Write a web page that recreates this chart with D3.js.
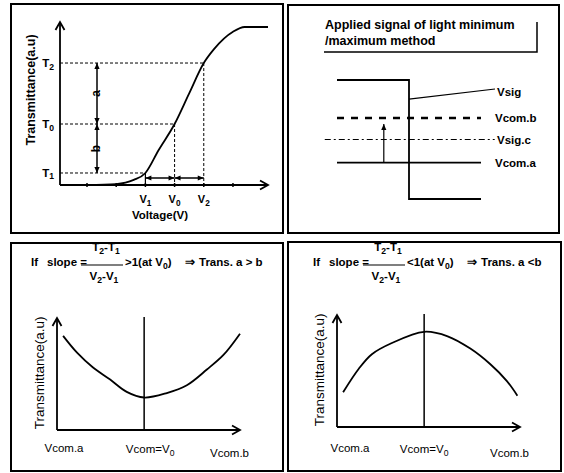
<!DOCTYPE html>
<html>
<head>
<meta charset="utf-8">
<script src="https://cdnjs.cloudflare.com/ajax/libs/d3/7.8.5/d3.min.js"></script>
<style>
body { margin: 0; background: #fff; }
text { font-family: "Liberation Sans", Arial, sans-serif; fill: #000; }
</style>
</head>
<body>
<div id="chart"></div>
<script>
// ---- data ----
// panel 1: transmittance vs voltage
var V1 = 3, V0 = 4, V2 = 5;
var T1 = 0.076, T0 = 0.386, T2 = 0.772;
var voltage = [1, 2, 2.6, V1, 3.45, V0, 4.5, V2, 5.35, 6, 6.4, 7.2];
var transmittance = [0, 0.006, 0.032, T1, 0.22, T0, 0.58, T2, 0.86, 0.97, 1, 1];
var voltTicks = [1, 2, 3, 4, 5, 6];
var voltNames = ["V_1", "V_0", "V_2"];
var transNames = ["T_1", "T_0", "T_2"];

// panel 2: applied signal
var sigTime = [0, 1, 1, 2];
var sigLevel = [1, 1, -1, -1];
var levelNames = ["Vcom.b", "Vsig.c", "Vcom.a"];
var levelValues = [0.36, 0, -0.39];

// panel 3: slope > 1
var vcomA = [-0.93, -0.77, -0.59, -0.39, -0.2, 0, 0.26, 0.49, 0.72, 0.91, 1.1];
var transA = [0.84, 0.69, 0.56, 0.45, 0.34, 0.29, 0.33, 0.40, 0.54, 0.67, 0.86];
// panel 4: slope < 1
var vcomB = [-0.93, -0.75, -0.6, -0.37, 0, 0.27, 0.53, 0.76, 0.95, 1.07];
var transB = [0.31, 0.52, 0.65, 0.75, 0.85, 0.81, 0.70, 0.56, 0.41, 0.28];
var vcomNames = ["Vcom.a", "Vcom=V_0", "Vcom.b"];

var svg = d3.select("#chart").append("svg")
  .attr("width", 564)
  .attr("height", 473);

svg.append("rect").attr("width", 564).attr("height", 473).attr("fill", "#fff");

// markers
var defs = svg.append("defs");
defs.append("marker")
  .attr("id", "open")
  .attr("markerUnits", "userSpaceOnUse")
  .attr("viewBox", "-10 -6 12 12")
  .attr("markerWidth", 12).attr("markerHeight", 12)
  .attr("refX", 0).attr("refY", 0)
  .attr("orient", "auto")
  .append("path")
  .attr("d", "M-8,-4.5L0,0L-8,4.5")
  .attr("fill", "none").attr("stroke", "#000").attr("stroke-width", 1.8);
defs.append("marker")
  .attr("id", "solid")
  .attr("markerUnits", "userSpaceOnUse")
  .attr("viewBox", "-8 -4 9 8")
  .attr("markerWidth", 9).attr("markerHeight", 8)
  .attr("refX", 0).attr("refY", 0)
  .attr("orient", "auto-start-reverse")
  .append("path")
  .attr("d", "M-6,-2.6L0,0L-6,2.6Z")
  .attr("fill", "#000");

// text with _x subscripts
function label(g, x, y, str, size, weight, anchor) {
  var t = g.append("text")
    .attr("x", x).attr("y", y)
    .attr("font-size", size)
    .attr("font-weight", weight || "bold")
    .attr("text-anchor", anchor || "start");
  var parts = str.split(/(_\w)/);
  var shift = 0;
  parts.forEach(function(p) {
    if (!p) return;
    if (p[0] === "_") {
      t.append("tspan").attr("dy", 2.5 - shift).attr("font-size", size * 0.75).text(p.slice(1));
      shift = 2.5;
    } else {
      t.append("tspan").attr("dy", -shift).text(p);
      shift = 0;
    }
  });
  return t;
}

function line(g, x1, y1, x2, y2, w) {
  return g.append("line")
    .attr("x1", x1).attr("y1", y1).attr("x2", x2).attr("y2", y2)
    .attr("stroke", "#000").attr("stroke-width", w || 1.5);
}

// panel frames
[[11, 4, 272, 229], [288, 5, 271, 228], [11, 243, 272, 228], [288, 242, 273, 229]].forEach(function(b) {
  svg.append("rect")
    .attr("x", b[0]).attr("y", b[1]).attr("width", b[2]).attr("height", b[3])
    .attr("fill", "none").attr("stroke", "#000").attr("stroke-width", 2);
});

// ==============================
// panel 1
// ==============================
var g1 = svg.append("g");
var x1 = d3.scaleLinear().domain([0.075, 7.2]).range([60, 268]);
var y1 = d3.scaleLinear().domain([0, 1]).range([185, 27]);

line(g1, x1(0.075), y1(0), x1(0.075), 22, 1.8).attr("marker-end", "url(#open)");
line(g1, x1(0.075), y1(0), 268, y1(0), 1.8).attr("marker-end", "url(#open)");

g1.selectAll(".tick").data(voltTicks).enter().append("line")
  .attr("x1", d => x1(d)).attr("x2", d => x1(d))
  .attr("y1", y1(0) - 2).attr("y2", y1(0) + 2)
  .attr("stroke", "#000").attr("stroke-width", 1.5);

var keyV = [V1, V0, V2];
var keyT = [T1, T0, T2];

// dashed guide lines
keyT.forEach(function(t, i) {
  line(g1, x1(0.075), y1(t), x1(keyV[i]), y1(t), 1).attr("stroke-dasharray", "3,2");
  if (i > 0) line(g1, x1(keyV[i]), y1(t), x1(keyV[i]), y1(0), 1).attr("stroke-dasharray", "3,2");
});

// T-V curve
g1.append("path")
  .datum(voltage.map((v, i) => [v, transmittance[i]]))
  .attr("fill", "none").attr("stroke", "#000").attr("stroke-width", 1.8)
  .attr("d", d3.line().x(d => x1(d[0])).y(d => y1(d[1])).curve(d3.curveMonotoneX));

// a / b arrows
var ax = 97;
line(g1, ax, y1(T2), ax, y1(T0), 1.5).attr("marker-start", "url(#solid)").attr("marker-end", "url(#solid)");
line(g1, ax, y1(T0), ax, y1(T1), 1.5).attr("marker-start", "url(#solid)").attr("marker-end", "url(#solid)");
g1.append("text").attr("transform", `translate(${ax - 1},${(y1(T2) + y1(T0)) / 2}) rotate(-90)`)
  .attr("text-anchor", "middle").attr("dy", "0.35em")
  .attr("font-size", 12).attr("font-weight", "bold").text("a");
g1.append("text").attr("transform", `translate(${ax - 1},${(y1(T0) + y1(T1)) / 2}) rotate(-90)`)
  .attr("text-anchor", "middle").attr("dy", "0.35em")
  .attr("font-size", 12).attr("font-weight", "bold").text("b");

// horizontal arrows V1-V0-V2
var hy = 178;
line(g1, x1(V1), y1(T1), x1(V1), y1(0), 1.2);
line(g1, x1(V1), hy, x1(V0), hy, 1.5).attr("marker-start", "url(#solid)").attr("marker-end", "url(#solid)");
line(g1, x1(V0), hy, x1(V2), hy, 1.5).attr("marker-start", "url(#solid)").attr("marker-end", "url(#solid)");

// labels
keyT.forEach(function(t, i) {
  label(g1, 54, y1(t) + 4, transNames[i], 11.5, "bold", "end");
});
keyV.forEach(function(v, i) {
  label(g1, x1(v), 203, voltNames[i], 11, "bold", "middle");
});
g1.append("text").attr("x", 160).attr("y", 219).attr("text-anchor", "middle")
  .attr("font-size", 11.5).attr("font-weight", "bold").text("Voltage(V)");
g1.append("text").attr("transform", "translate(31,90) rotate(-90)")
  .attr("text-anchor", "middle").attr("dy", "0.35em")
  .attr("font-size", 12.5).attr("font-weight", "bold").text("Transmittance(a.u)");

// ==============================
// panel 2
// ==============================
var g2 = svg.append("g");
var x2 = d3.scaleLinear().domain([0, 2]).range([337, 481]);
var y2 = d3.scaleLinear().domain([-1, 1]).range([199, 80]);

g2.append("text").attr("x", 325).attr("y", 29).attr("font-size", 12.5).attr("font-weight", "bold")
  .text("Applied signal of light minimum");
g2.append("text").attr("x", 325).attr("y", 45).attr("font-size", 12.5).attr("font-weight", "bold")
  .text("/maximum method");
g2.append("path").attr("d", "M324,52H537V22").attr("fill", "none").attr("stroke", "#000").attr("stroke-width", 1.5);

g2.append("path")
  .datum(sigTime.map((t, i) => [t, sigLevel[i]]))
  .attr("fill", "none").attr("stroke", "#000").attr("stroke-width", 1.8)
  .attr("d", d3.line().x(d => x2(d[0])).y(d => y2(d[1])));

// Vcom.b dashed
line(g2, x2(0), y2(levelValues[0]), x2(2), y2(levelValues[0]), 2.5).attr("stroke-dasharray", "7,7");
// Vsig.c dash-dot
line(g2, x2(-0.17), y2(levelValues[1]), x2(2.19), y2(levelValues[1]), 1.2).attr("stroke-dasharray", "6,3,2,3");
// Vcom.a solid
line(g2, x2(0), y2(levelValues[2]), x2(2), y2(levelValues[2]), 1.8);
// arrow from Vcom.a toward Vcom.b
line(g2, x2(0.65), y2(levelValues[2]), x2(0.65), y2(levelValues[0]) + 6, 1.2).attr("marker-end", "url(#solid)");
// Vsig pointer
line(g2, x2(1), y2(0.68), 495, 89, 1.2);

label(g2, 497, 96, "Vsig", 11.5, "bold");
label(g2, 495, 122, levelNames[0], 11.5, "bold");
label(g2, 497, 144, levelNames[1], 11.5, "bold");
label(g2, 495, 167, levelNames[2], 11.5, "bold");

// ==============================
// panels 3 and 4
// ==============================
function bottomPanel(ox, oy, xs, vals, fx, cmp, tail, lx) {
  var g = svg.append("g");
  var x = d3.scaleLinear().domain([-1, 1.1]).range([ox, ox + 183]);
  var y = d3.scaleLinear().domain([0, 1]).range([oy, oy - 112]);

  line(g, x(-1), y(0), x(-1), y(1), 1.8).attr("marker-end", "url(#open)");
  line(g, x(-1), y(0), x(1.1), y(0), 1.8).attr("marker-end", "url(#open)");
  line(g, x(0), y(0), x(0), y(1.01), 1.5);

  g.append("path")
    .datum(xs.map((v, i) => [v, vals[i]]))
    .attr("fill", "none").attr("stroke", "#000").attr("stroke-width", 1.8)
    .attr("d", d3.line().x(d => x(d[0])).y(d => y(d[1])).curve(d3.curveCatmullRom));

  g.append("text").attr("transform", `translate(${x(-1) - 18},${y(0.51)}) rotate(-90)`)
    .attr("text-anchor", "middle").attr("dy", "0.35em")
    .attr("font-size", 13.5).text("Transmittance(a.u)");

  label(g, x(-1) + lx[0], 452, vcomNames[0], 11.5, "normal", "middle");
  label(g, x(0) + lx[1], 453, vcomNames[1], 11.5, "normal", "middle");
  label(g, x(0.98), 457, vcomNames[2], 11.5, "normal", "middle");

  // formula
  label(g, fx, 266, "If", 11.5, "bold");
  label(g, fx + 16, 266, "slope =", 11.5, "bold");
  line(g, fx + 50, 265, fx + 92, 265, 1.2);
  label(g, fx + 75, 251, "T_2-T_1", 11.5, "bold", "middle");
  label(g, fx + 73, 280, "V_2-V_1", 11.5, "bold", "middle");
  label(g, fx + 94, 266, cmp + "1(at V_0)", 11.5, "bold");
  label(g, fx + 154, 266, "\u21D2", 11.5, "bold");
  label(g, fx + 168, 266, "Trans.  a " + tail, 11.5, "bold");
}

bottomPanel(57, 430, vcomA, transA, 31, ">", "> b", [7, 6]);
bottomPanel(337, 427, vcomB, transB, 313, "<", "<b", [13, 0]);
</script>
</body>
</html>
